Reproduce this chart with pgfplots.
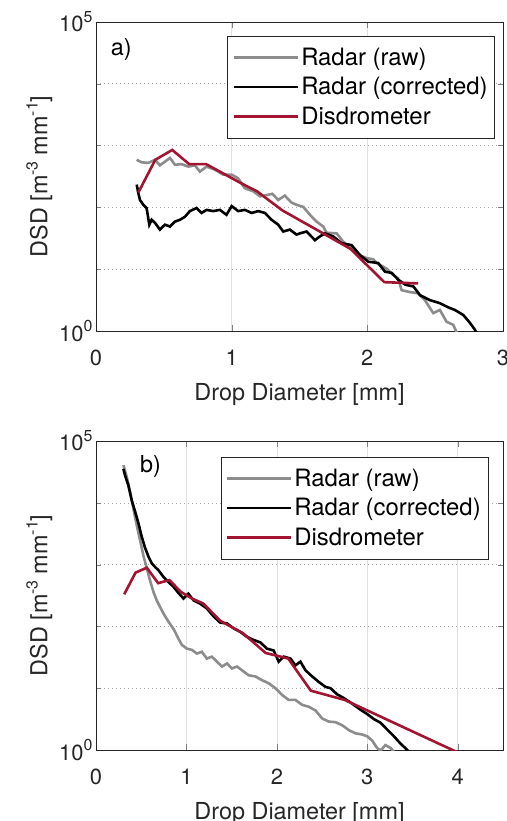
\documentclass[border=0pt]{standalone}
\usepackage{fontspec}
\setmainfont{TeX Gyre Heros}
\usepackage{pgfplots}
\pgfplotsset{compat=1.18}
\pgfkeys{/pgf/number format/assume math mode=true}
\definecolor{cRaw}{RGB}{140,140,140}
\definecolor{cDis}{RGB}{162,20,47}
\definecolor{cAx}{RGB}{38,38,38}
\definecolor{cGrid}{RGB}{225,225,225}
\newcommand{\bigf}{\fontsize{23.5}{27}\selectfont}
\newcommand{\supx}[1]{\raisebox{0.42em}{\fontsize{16}{16}\selectfont #1}}
\pgfplotsset{
  legend image code/.code={\draw[#1, line width=2.6bp] (0bp,0bp) -- (64bp,0bp);},
  tick label style={font=\fontsize{22}{26}\selectfont, color=cAx},
  label style={font=\bigf, color=cAx},
  legend style={font=\fontsize{24}{28}\selectfont, draw=cAx, fill=white,
                inner xsep=5bp, inner ysep=10bp, row sep=6.5bp,
                nodes={inner sep=2bp, text=black}},
  legend cell align=left,
  axis line style={cAx, line width=0.6bp},
  major grid style={cGrid, line width=0.6bp},
  minor grid style={black!35, line width=0.6bp, dash pattern=on 0.8bp off 3.2bp},
  xticklabel shift=15bp,
  xlabel style={yshift=-11bp},
}
\begin{document}
\begin{tikzpicture}
\useasboundingbox (-96bp,-490bp) rectangle (411bp,331bp);
% panel a
\begin{axis}[scale only axis, width=407bp, height=309bp, at={(0,0)},
  xmin=0, xmax=3, xtick={0,1,2,3},
  ymode=log, ymin=1, ymax=100000,
  ytick={1,100000}, yticklabels={10\supx{0},10\supx{5}},
  minor ytick={10,100,1000,10000},
  yminorgrids, xmajorgrids, tick align=inside,
  major tick length=6bp, minor tick length=5bp,
  xlabel={Drop Diameter [mm]},
  ylabel={DSD [m\supx{-3}\hspace{6bp}mm\supx{-1}]},
  legend style={at={(0.98,0.955)}, anchor=north east}]
\addplot[cRaw, line width=2.6bp] coordinates {
 (0.300,589) (0.336,537) (0.385,525) (0.435,589) (0.471,479) (0.508,550)
 (0.545,631) (0.582,490) (0.631,501) (0.680,457) (0.729,479) (0.766,380)
 (0.815,457) (0.877,407) (0.938,339) (1.000,339) (1.048,295) (1.097,204)
 (1.159,182) (1.208,151) (1.257,158) (1.300,166) (1.343,132) (1.392,155)
 (1.440,120) (1.479,110) (1.528,102) (1.577,75.9) (1.626,58.9) (1.675,49.0)
 (1.700,38.9) (1.774,38.0) (1.822,27.9) (1.896,20.4) (1.950,16.6) (1.995,15.1)
 (2.043,14.5) (2.068,12.6) (2.142,10.2) (2.190,8.13) (2.227,7.08) (2.253,4.57)
 (2.314,4.27) (2.375,4.07) (2.424,3.16) (2.486,1.95) (2.535,2.19) (2.584,1.41)
 (2.633,1.26) (2.660,0.93) (2.700,0.63)};
\addplot[black, line width=2.6bp] coordinates {
 (0.300,234) (0.312,170) (0.324,132) (0.349,110) (0.373,97.7) (0.393,52.5)
 (0.410,63.1) (0.435,56.2) (0.471,43.7) (0.508,52.5) (0.545,49.0) (0.582,58.9)
 (0.619,63.1) (0.656,70.8) (0.692,87.1) (0.741,97.7) (0.778,81.3) (0.815,91.2)
 (0.864,87.1) (0.913,91.2) (0.962,75.9) (1.000,105) (1.048,87.1) (1.097,91.2)
 (1.147,81.3) (1.196,87.1) (1.245,81.3) (1.294,63.1) (1.343,52.5) (1.380,40.7)
 (1.429,43.7) (1.478,36.3) (1.503,38.0) (1.552,40.7) (1.614,29.5) (1.650,33.9)
 (1.688,38.0) (1.749,33.9) (1.810,26.3) (1.884,24.5) (1.945,17.0) (2.007,13.2)
 (2.080,12.6) (2.130,9.12) (2.179,8.71) (2.228,6.76) (2.280,5.62) (2.340,5.25)
 (2.388,3.80) (2.461,3.16) (2.535,2.82) (2.590,2.45) (2.645,2.19) (2.707,1.82)
 (2.750,1.41) (2.793,1.05) (2.820,0.79)};
\addplot[cDis, line width=2.6bp] coordinates {
 (0.312,174) (0.437,589) (0.562,851) (0.687,501) (0.812,501) (0.937,355)
 (1.062,251) (1.187,182) (1.375,89.1) (1.625,43.7) (1.875,21.4) (2.125,6.17)
 (2.375,5.89)};
\legend{Radar (raw), Radar (corrected), Disdrometer}
\node[anchor=north west, inner sep=0pt, font=\bigf] at (axis cs:0.108,55000) {a)};
\end{axis}
% panel b
\begin{axis}[scale only axis, width=407bp, height=309bp, at={(0,-419bp)},
  xmin=0, xmax=4.5, xtick={0,1,2,3,4},
  ymode=log, ymin=1, ymax=100000,
  ytick={1,100000}, yticklabels={10\supx{0},10\supx{5}},
  minor ytick={10,100,1000,10000},
  yminorgrids, xmajorgrids, tick align=inside,
  major tick length=6bp, minor tick length=5bp,
  xlabel={Drop Diameter [mm]},
  ylabel={DSD [m\supx{-3}\hspace{6bp}mm\supx{-1}]},
  legend style={at={(0.963,0.949)}, anchor=north east}]
\addplot[cRaw, line width=2.6bp] coordinates {
 (0.303,40738) (0.340,26303) (0.377,15136) (0.414,7943) (0.450,4365) (0.488,2455)
 (0.525,1380) (0.562,871) (0.598,550) (0.635,363) (0.672,263) (0.710,204)
 (0.746,162) (0.800,120) (0.857,91.2) (0.912,63.1) (0.950,50.1) (1.005,43.7)
 (1.060,41.7) (1.116,36.3) (1.170,38.9) (1.226,30.2) (1.280,32.4) (1.337,26.9)
 (1.393,22.4) (1.448,25.1) (1.503,20.9) (1.559,22.4) (1.614,19.5) (1.688,16.2)
 (1.762,15.5) (1.836,13.5) (1.910,12.0) (1.984,10.0) (2.058,7.76) (2.130,6.46)
 (2.205,6.46) (2.280,5.37) (2.353,5.01) (2.427,4.37) (2.500,3.24) (2.575,2.88)
 (2.649,2.82) (2.723,2.51) (2.797,2.09) (2.870,1.86) (2.944,1.78) (3.000,1.66)
 (3.055,1.41) (3.110,1.07) (3.147,0.98) (3.200,1.20) (3.260,1.07) (3.295,0.93)
 (3.320,0.79)};
\addplot[black, line width=2.6bp] coordinates {
 (0.303,35481) (0.320,28184) (0.358,19055) (0.395,10965) (0.432,7244) (0.469,4677)
 (0.506,2818) (0.543,1862) (0.580,1349) (0.617,1047) (0.654,912) (0.690,813)
 (0.746,631) (0.800,525) (0.857,437) (0.912,347) (0.968,282) (1.020,339)
 (1.080,263) (1.150,234) (1.226,195) (1.300,145) (1.374,115) (1.448,112)
 (1.520,93.3) (1.596,81.3) (1.670,67.6) (1.744,60.3) (1.818,55.0) (1.890,43.7)
 (1.965,40.7) (2.020,26.9) (2.076,32.4) (2.150,30.2) (2.205,23.4) (2.260,26.9)
 (2.316,19.5) (2.390,15.5) (2.464,12.6) (2.538,10.5) (2.593,10.0) (2.667,7.94)
 (2.741,6.92) (2.833,5.62) (2.926,4.47) (3.000,3.80) (3.073,3.16) (3.147,2.75)
 (3.220,2.14) (3.295,1.66) (3.369,1.26) (3.443,1.00) (3.480,0.79)};
\addplot[cDis, line width=2.6bp] coordinates {
 (0.312,331) (0.437,741) (0.562,891) (0.687,501) (0.812,562) (0.937,363)
 (1.062,282) (1.187,234) (1.375,123) (1.625,77.6) (1.875,37.2) (2.125,30.2)
 (2.375,9.12) (2.750,6.46) (3.250,2.95) (3.750,1.35) (4.250,0.62)};
\legend{Radar (raw), Radar (corrected), Disdrometer}
\node[anchor=north west, inner sep=0pt, font=\bigf] at (axis cs:0.486,59600) {b)};
\end{axis}
\end{tikzpicture}
\end{document}
